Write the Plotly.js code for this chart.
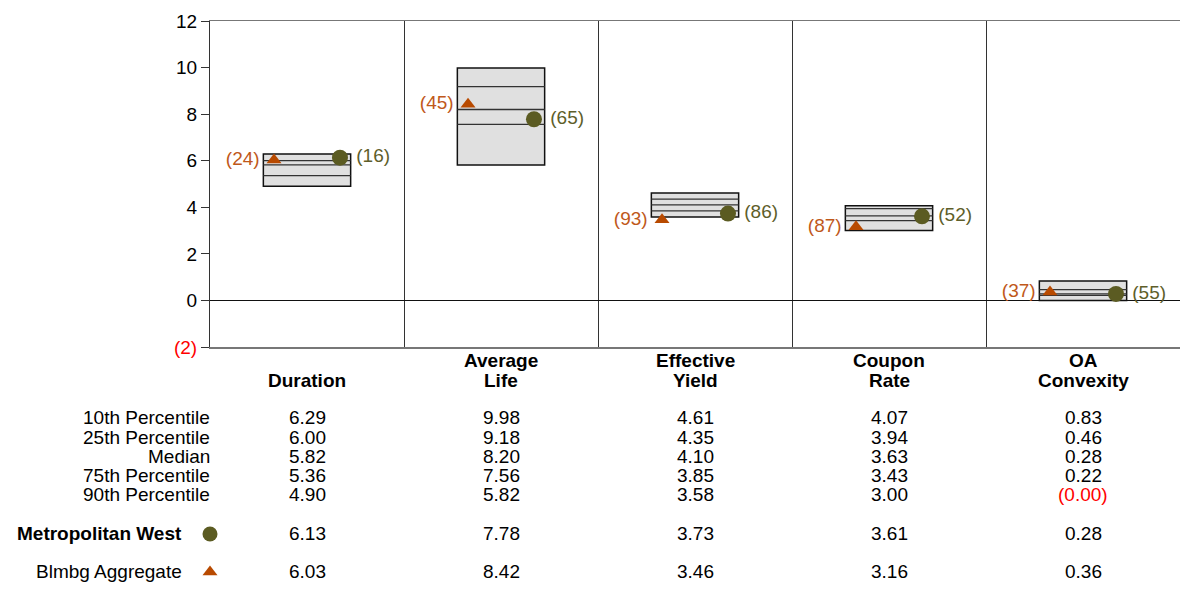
<!DOCTYPE html>
<html>
<head>
<meta charset="utf-8">
<script src="https://cdn.plot.ly/plotly-3.0.1.min.js"></script>
<style>html,body{margin:0;padding:0;background:#fff;}#chart{width:1183px;height:592px;}</style>
</head>
<body>
<div id="chart"></div>
<script>
// ---- data ----
const categories = [["Duration"], ["Average", "Life"], ["Effective", "Yield"], ["Coupon", "Rate"], ["OA", "Convexity"]];
const p10 = [6.29, 9.98, 4.61, 4.07, 0.83];
const p25 = [6.00, 9.18, 4.35, 3.94, 0.46];
const median = [5.82, 8.20, 4.10, 3.63, 0.28];
const p75 = [5.36, 7.56, 3.85, 3.43, 0.22];
const p90 = [4.90, 5.82, 3.58, 3.00, -0.001];
const metroWest = [6.13, 7.78, 3.73, 3.61, 0.28];
const metroWestRank = [16, 65, 86, 52, 55];
const blmbgAgg = [6.03, 8.42, 3.46, 3.16, 0.36];
const blmbgAggRank = [24, 45, 93, 87, 37];
const rowLabels = ["10th Percentile", "25th Percentile", "Median", "75th Percentile", "90th Percentile"];
const yTickVals = [-2, 0, 2, 4, 6, 8, 10, 12];

// ---- styling ----
const FONT = "Arial, 'Liberation Sans', sans-serif";
const FS = 19;
const OLIVE = "#5b5b22";
const OLIVE_TXT = "#5e5e2a";
const RUST = "#b84a00";
const RUST_TXT = "#c0581a";
const W = 1183, H = 592;
const centers = categories.map((_, i) => i + 0.5);
const boxW = 0.45, mOff = 0.17;

function fmt(v) {
  if (v < 0) return '<span style="color:#ff0000">(' + Math.abs(v).toFixed(2) + ')</span>';
  return v.toFixed(2);
}
function fmtTick(v) {
  if (v < 0) return '<span style="color:#ff0000">(' + Math.abs(v) + ')</span>';
  return String(v);
}

const traces = [];
// boxes
traces.push({
  type: "bar", x: centers, base: p90, y: p10.map((v, i) => v - p90[i]),
  width: boxW, marker: {color: "#e0e0e0", line: {color: "#111", width: 1.5}},
  hoverinfo: "skip", showlegend: false
});
// inner percentile lines
[p25, median, p75].forEach(arr => {
  const xs = [], ys = [];
  centers.forEach((c, i) => { xs.push(c - boxW / 2, c + boxW / 2, null); ys.push(arr[i], arr[i], null); });
  traces.push({type: "scatter", mode: "lines", x: xs, y: ys, line: {color: "#333", width: 1.3}, hoverinfo: "skip", showlegend: false});
});
// Blmbg aggregate
traces.push({
  type: "scatter", mode: "markers+text", x: centers.map(c => c - mOff), y: blmbgAgg,
  marker: {symbol: "triangle-up", size: 13, color: RUST},
  text: blmbgAggRank.map(r => "(" + r + ") "), textposition: "middle left",
  textfont: {family: FONT, size: FS, color: RUST_TXT}, cliponaxis: false, showlegend: false
});
// Metropolitan West
traces.push({
  type: "scatter", mode: "markers+text", x: centers.map(c => c + mOff), y: metroWest,
  marker: {symbol: "circle", size: 16, color: OLIVE},
  text: metroWestRank.map(r => " (" + r + ")"), textposition: "middle right",
  textfont: {family: FONT, size: FS, color: OLIVE_TXT}, cliponaxis: false, showlegend: false
});
// legend markers in the table (pixel overlay axes)
traces.push({type: "scatter", mode: "markers", xaxis: "x2", yaxis: "y2", x: [210], y: [534],
  marker: {symbol: "circle", size: 15, color: OLIVE}, hoverinfo: "skip", showlegend: false, cliponaxis: false});
traces.push({type: "scatter", mode: "markers", xaxis: "x2", yaxis: "y2", x: [210], y: [572],
  marker: {symbol: "triangle-up", size: 13, color: RUST}, hoverinfo: "skip", showlegend: false, cliponaxis: false});

const annotations = [];
const py = px => 1 - px / H;
// column headers (each line placed separately, bottom line aligned)
categories.forEach((lines, i) => {
  const n = lines.length;
  lines.forEach((t, k) => {
    annotations.push({xref: "x", yref: "paper", x: centers[i], y: py(380 - (n - 1 - k) * 20), yanchor: "middle", xanchor: "center",
      text: "<b>" + t + "</b>", showarrow: false, font: {family: FONT, size: FS, color: "#000"}});
  });
});
// percentile rows
const rowY = [418, 437, 456, 475, 494];
const pctArrays = [p10, p25, median, p75, p90];
rowLabels.forEach((lab, r) => {
  annotations.push({xref: "paper", yref: "paper", x: 212 / W, y: py(rowY[r]), xanchor: "right", yanchor: "middle",
    text: lab, showarrow: false, font: {family: FONT, size: FS, color: "#000"}});
  pctArrays[r].forEach((v, i) => {
    annotations.push({xref: "x", yref: "paper", x: centers[i], y: py(rowY[r]), xanchor: "center", yanchor: "middle",
      text: fmt(v), showarrow: false, font: {family: FONT, size: FS, color: "#000"}});
  });
});
// entity rows
annotations.push({xref: "paper", yref: "paper", x: 184 / W, y: py(533), xanchor: "right", yanchor: "middle",
  text: "<b>Metropolitan West</b>", showarrow: false, font: {family: FONT, size: FS, color: "#000"}});
annotations.push({xref: "paper", yref: "paper", x: 184 / W, y: py(571), xanchor: "right", yanchor: "middle",
  text: "Blmbg Aggregate", showarrow: false, font: {family: FONT, size: FS, color: "#000"}});
metroWest.forEach((v, i) => annotations.push({xref: "x", yref: "paper", x: centers[i], y: py(533), xanchor: "center", yanchor: "middle",
  text: fmt(v), showarrow: false, font: {family: FONT, size: FS, color: "#000"}}));
blmbgAgg.forEach((v, i) => annotations.push({xref: "x", yref: "paper", x: centers[i], y: py(571), xanchor: "center", yanchor: "middle",
  text: fmt(v), showarrow: false, font: {family: FONT, size: FS, color: "#000"}}));

const layout = {
  width: W, height: H,
  margin: {l: 0, r: 0, t: 0, b: 0, pad: 0},
  paper_bgcolor: "#fff", plot_bgcolor: "rgba(0,0,0,0)",
  font: {family: FONT, size: FS, color: "#000"},
  showlegend: false,
  xaxis: {domain: [210 / W, 1180 / W], range: [0, 5], tickvals: [1, 2, 3, 4], showticklabels: false, ticks: "",
    showgrid: true, gridcolor: "#333", gridwidth: 1, zeroline: false,
    showline: true, linecolor: "#777", linewidth: 1.5, mirror: true, fixedrange: true},
  yaxis: {domain: [1 - 347 / H, 1 - 21 / H], range: [-2, 12], tickvals: yTickVals, ticktext: yTickVals.map(fmtTick),
    ticks: "outside", ticklen: 8, tickcolor: "#333", tickwidth: 1, tickfont: {family: FONT, size: FS, color: "#000"},
    showgrid: false, zeroline: true, zerolinecolor: "#111", zerolinewidth: 1,
    showline: true, linecolor: "#333", linewidth: 1, fixedrange: true},
  xaxis2: {domain: [0, 1], range: [0, W], anchor: "y2", visible: false, fixedrange: true},
  yaxis2: {domain: [0, 1], range: [H, 0], anchor: "x2", visible: false, fixedrange: true},
  annotations: annotations
};

Plotly.newPlot("chart", traces, layout, {displayModeBar: false, staticPlot: true});
</script>
</body>
</html>
